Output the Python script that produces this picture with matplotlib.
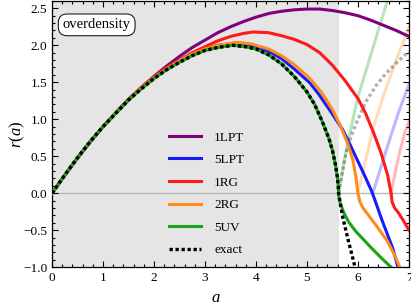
import matplotlib
matplotlib.use("Agg")
import matplotlib.pyplot as plt
from matplotlib.ticker import MultipleLocator

plt.rcParams['font.family'] = ['Liberation Serif', 'DejaVu Serif']
plt.rcParams['mathtext.fontset'] = 'custom'
plt.rcParams['mathtext.rm'] = 'Liberation Serif'
plt.rcParams['mathtext.it'] = 'Liberation Serif:italic'

# curves
a_1lpt = [0, 0.25, 0.5, 0.75, 1.0, 1.25, 1.5, 1.75, 2.0, 2.25, 2.5, 2.75, 3.0, 3.25, 3.5,
          3.75, 4.0, 4.25, 4.5, 4.75, 5.0, 5.25, 5.5, 5.75, 6.0, 6.25, 6.5, 6.75, 7.0]
r_1lpt = [0, 0.24, 0.47, 0.69, 0.9, 1.09, 1.27, 1.43, 1.58, 1.72, 1.85, 1.97, 2.07, 2.17, 2.25,
          2.32, 2.38, 2.43, 2.46, 2.48, 2.49, 2.49, 2.47, 2.44, 2.4, 2.34, 2.27, 2.2, 2.12]

a_5lpt = [0, 0.25, 0.5, 0.75, 1.0, 1.25, 1.5, 1.75, 2.0, 2.25, 2.5, 2.75, 3.0, 3.25, 3.63,
          3.9, 4.25, 4.5, 4.75, 5.06, 5.24, 5.45, 5.7, 5.85, 6.0, 6.13, 6.26, 6.3, 6.48, 6.68, 6.78]
r_5lpt = [0, 0.245, 0.48, 0.7, 0.9, 1.08, 1.26, 1.42, 1.56, 1.68, 1.79, 1.88, 1.95, 2.0, 2.03,
          2.0, 1.92, 1.82, 1.68, 1.49, 1.33, 1.12, 0.86, 0.65, 0.43, 0.24, 0.04, -0.03, -0.38, -0.74, -0.99]

a_1rg = [0, 0.25, 0.5, 0.75, 1.0, 1.25, 1.5, 1.75, 2.0, 2.25, 2.5, 2.75, 3.0, 3.25, 3.5, 3.75,
         3.95, 4.25, 4.5, 4.75, 5.0, 5.25, 5.5, 5.75, 6.0, 6.15, 6.3, 6.45, 6.58, 6.65, 6.67,
         6.72, 6.8, 6.9, 7.0]
r_1rg = [0, 0.245, 0.48, 0.7, 0.9, 1.085, 1.27, 1.43, 1.57, 1.7, 1.8, 1.9, 1.98, 2.06, 2.12, 2.16,
         2.18, 2.17, 2.13, 2.08, 2.01, 1.9, 1.73, 1.52, 1.28, 1.08, 0.83, 0.55, 0.25, 0.0, -0.12,
         -0.2, -0.27, -0.38, -0.5]

a_2rg = [0, 0.25, 0.5, 0.75, 1.0, 1.25, 1.5, 1.75, 2.0, 2.25, 2.5, 2.75, 3.0, 3.25, 3.63,
         3.9, 4.25, 4.5, 4.75, 5.06, 5.3, 5.5, 5.65, 5.8, 5.9, 5.96, 6.0, 6.04, 6.1, 6.35,
         6.58, 6.72, 6.82]
r_2rg = [0, 0.245, 0.48, 0.7, 0.9, 1.08, 1.26, 1.42, 1.56, 1.68, 1.79, 1.88, 1.95, 2.0, 2.04,
         2.02, 1.95, 1.86, 1.74, 1.55, 1.35, 1.13, 0.92, 0.67, 0.45, 0.22, 0.0, -0.12, -0.2, -0.43,
         -0.65, -0.84, -1.0]

a_5uv = [0, 0.25, 0.5, 0.75, 1.0, 1.25, 1.5, 1.75, 2.0, 2.25, 2.5, 2.75, 3.0, 3.25, 3.55,
         3.8, 4.0, 4.25, 4.5, 4.75, 5.0, 5.15, 5.3, 5.43, 5.5, 5.56, 5.6, 5.615, 5.62,
         5.63, 5.66, 5.72, 5.82, 5.95, 6.1, 6.25, 6.45, 6.65]
r_5uv = [0, 0.245, 0.48, 0.7, 0.9, 1.08, 1.26, 1.41, 1.55, 1.67, 1.77, 1.86, 1.93, 1.97, 2.0,
         1.98, 1.95, 1.87, 1.75, 1.58, 1.37, 1.2, 0.97, 0.74, 0.58, 0.38, 0.2, 0.08, 0.0,
         -0.07, -0.15, -0.26, -0.39, -0.51, -0.62, -0.73, -0.87, -1.0]

a_exact = [0, 0.25, 0.5, 0.75, 1.0, 1.25, 1.5, 1.75, 2.0, 2.25, 2.5, 2.75, 3.0, 3.25, 3.55,
           3.8, 4.0, 4.25, 4.5, 4.75, 5.0, 5.15, 5.3, 5.43, 5.5, 5.56, 5.6, 5.615, 5.62,
           5.65, 5.7, 5.8, 5.87, 5.95]
r_exact = [0, 0.245, 0.48, 0.7, 0.9, 1.08, 1.26, 1.41, 1.55, 1.67, 1.77, 1.86, 1.93, 1.97, 2.0,
           1.98, 1.95, 1.87, 1.75, 1.58, 1.37, 1.2, 0.97, 0.74, 0.58, 0.38, 0.2, 0.08, 0.0,
           -0.12, -0.32, -0.61, -0.8, -1.02]

# faded branches after collapse
a_5uv_f = [5.62, 5.72, 5.82, 6.0, 6.3, 6.62]
r_5uv_f = [0, 0.4, 0.75, 1.3, 1.98, 2.7]
a_exact_f = [5.62, 5.7, 5.77, 5.9, 6.0, 6.16, 6.35, 6.55, 6.75, 7.0]
r_exact_f = [0, 0.3, 0.56, 0.83, 1.0, 1.24, 1.45, 1.62, 1.76, 1.92]
a_2rg_f = [6.0, 6.15, 6.3, 6.5, 6.75, 7.0]
r_2rg_f = [0, 0.45, 0.88, 1.32, 1.8, 2.24]
a_5lpt_f = [6.29, 6.45, 6.6, 6.8, 7.0]
r_5lpt_f = [0, 0.35, 0.68, 1.1, 1.47]
a_1rg_f = [6.65, 6.73, 6.82, 6.91, 7.0]
r_1rg_f = [0, 0.28, 0.56, 0.8, 0.97]

a_collapse = 5.62

c_1lpt = '#800080'
c_5lpt = '#1a1aff'
c_1rg = '#ff1a1a'
c_2rg = '#ff8c1a'
c_5uv = '#1aa31a'

fig = plt.figure(figsize=(4.11, 3.05), dpi=100)
ax = fig.add_axes([0.1265, 0.124, 0.8685, 0.873])

ax.axvspan(0, a_collapse, color='#e5e5e5', lw=0, zorder=0)
ax.axhline(0, color='#b8b8b8', lw=1.0, zorder=1)

lw = 2.2
ax.plot(a_5uv_f, r_5uv_f, color=c_5uv, alpha=0.3, lw=lw, zorder=2)
ax.plot(a_2rg_f, r_2rg_f, color=c_2rg, alpha=0.3, lw=lw, zorder=2)
ax.plot(a_5lpt_f, r_5lpt_f, color=c_5lpt, alpha=0.3, lw=lw, zorder=2)
ax.plot(a_1rg_f, r_1rg_f, color=c_1rg, alpha=0.3, lw=lw, zorder=2)
ax.plot(a_exact_f, r_exact_f, color='k', alpha=0.3, lw=2.4, ls=(0, (1, 0.8)), zorder=2)

ax.plot(a_1lpt, r_1lpt, color=c_1lpt, lw=lw, label='1LPT', zorder=3)
ax.plot(a_5lpt, r_5lpt, color=c_5lpt, lw=lw, label='5LPT', zorder=3)
ax.plot(a_1rg, r_1rg, color=c_1rg, lw=lw, label='1RG', zorder=3)
ax.plot(a_2rg, r_2rg, color=c_2rg, lw=lw, label='2RG', zorder=3)
ax.plot(a_5uv, r_5uv, color=c_5uv, lw=lw, label='5UV', zorder=3)
ax.plot(a_exact, r_exact, color='k', lw=2.4, ls=(0, (1, 0.8)), label='exact', zorder=4)

ax.set_xlim(0, 7)
ax.set_ylim(-1, 2.6)
ax.xaxis.set_major_locator(MultipleLocator(1))
ax.xaxis.set_minor_locator(MultipleLocator(0.2))
ax.yaxis.set_major_locator(MultipleLocator(0.5))
ax.yaxis.set_minor_locator(MultipleLocator(0.1))
ax.tick_params(which='both', direction='in', top=True, right=True, labelsize=9.5, width=0.8)
ax.tick_params(which='major', length=4)
ax.tick_params(which='minor', length=2)
for s in ax.spines.values():
    s.set_linewidth(0.9)

ax.set_xlabel('$a$', fontsize=12)
ax.xaxis.set_label_coords(0.46, -0.085)
ax.set_ylabel('$r(a)$', fontsize=12)
ax.yaxis.set_label_coords(-0.07, 0.5)

ax.text(0.03, 0.91, 'overdensity', transform=ax.transAxes, fontsize=10.5, va='center', ha='left',
        bbox=dict(boxstyle='round,pad=0.3,rounding_size=0.6', fc='white', ec='black', lw=0.7),
        zorder=5)

ax.legend(loc='upper left', bbox_to_anchor=(0.314, 0.53), frameon=False, fontsize=9.5,
          handlelength=2.4, handletextpad=1.0, labelspacing=0.78, borderaxespad=0)

fig.savefig('out.png', dpi=100)
